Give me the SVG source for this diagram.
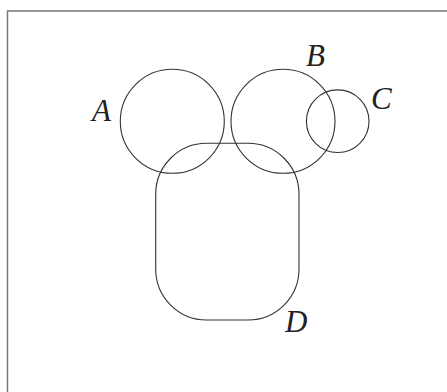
<svg xmlns="http://www.w3.org/2000/svg" width="447" height="392" viewBox="0 0 447 392">
<style>
.s{fill:none;stroke:#333;stroke-width:1.1}
.t{font-family:'Liberation Serif',serif;font-style:italic;font-weight:normal;font-size:31px;fill:#222}
</style>
<rect width="447" height="392" fill="#fff"/>
<rect x="7.5" y="11" width="450" height="400" fill="none" stroke="#777" stroke-width="1.5"/>
<g id="A"><circle class="s" cx="172.3" cy="121.3" r="52"/><text class="t" x="92" y="120.7">A</text></g>
<g id="B"><circle class="s" cx="283" cy="121.3" r="52"/><text class="t" x="306" y="65.7">B</text></g>
<g id="C"><circle class="s" cx="337.7" cy="121.2" r="31.3"/><text class="t" x="371" y="109">C</text></g>
<g id="D"><rect class="s" x="155.7" y="143.3" width="143.3" height="176.7" rx="51" ry="51"/><text class="t" x="285" y="331.5">D</text></g>
<g id="connectors"/>
</svg>
